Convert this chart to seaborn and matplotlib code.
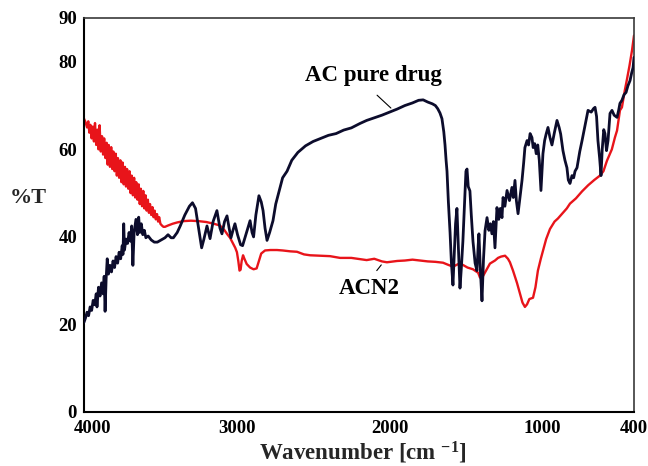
import matplotlib
matplotlib.use("Agg")
import matplotlib.pyplot as plt
import matplotlib.transforms as mtransforms
import pandas as pd
import seaborn as sns

# ---------------- data ----------------
ac_wavenumber = [
    4000, 3990, 3980, 3970, 3960, 3950, 3940, 3930, 3920, 3915, 3905, 3895, 3885, 3875, 3868, 3862,
    3855, 3848, 3840, 3830, 3820, 3810, 3800, 3790, 3780, 3770, 3760, 3750, 3745, 3740, 3735, 3725,
    3715, 3705, 3695, 3688, 3680, 3672, 3660, 3650, 3642, 3635, 3625, 3615, 3605, 3595, 3580, 3560,
    3540, 3520, 3500, 3470, 3450, 3430, 3415, 3390, 3370, 3340, 3310, 3290, 3270, 3250, 3230, 3215,
    3195, 3175, 3155, 3130, 3110, 3097, 3080, 3064, 3050, 3038, 3025, 3012, 2995, 2975, 2962, 2945,
    2933, 2913, 2900, 2890, 2875, 2855, 2840, 2828, 2815, 2802, 2785, 2763, 2745, 2730, 2700, 2671,
    2640, 2600, 2550, 2500, 2450, 2400, 2350, 2300, 2250, 2194, 2150, 2100, 2050, 2000, 1950, 1900,
    1850, 1810, 1780, 1750, 1720, 1700, 1685, 1670, 1657, 1645, 1637, 1630, 1624, 1615, 1604, 1595,
    1585, 1578, 1568, 1559, 1550, 1539, 1530, 1520, 1510, 1500, 1493, 1485, 1474, 1465, 1454, 1440,
    1428, 1420, 1415, 1405, 1395, 1385, 1375, 1362, 1350, 1340, 1330, 1320, 1310, 1297, 1285, 1275,
    1264, 1257, 1245, 1231, 1215, 1199, 1190, 1179, 1170, 1159, 1145, 1133, 1122, 1114, 1100, 1090,
    1080, 1068, 1060, 1050, 1040, 1030, 1020, 1009, 1002, 996, 985, 975, 963, 950, 937, 920,
    904, 890, 880, 865, 852, 839, 830, 819, 806, 795, 786, 773, 755, 740, 720, 701,
    680, 665, 655, 645, 636, 625, 616, 608, 598, 590, 580, 570, 557, 544, 530, 511,
    500, 492, 479, 465, 452, 440, 426, 415, 406, 400,
]
ac_transmittance = [
    20.5, 21.5, 22.8, 22.0, 24.0, 23.2, 25.5, 24.5, 27.0, 24.0, 28.5, 26.5, 29.5, 27.0, 31.0, 23.0,
    30.5, 35.0, 31.5, 33.5, 32.0, 34.5, 33.0, 35.5, 34.0, 36.5, 35.0, 38.0, 36.0, 43.0, 37.0, 39.5,
    38.5, 41.0, 39.0, 42.5, 33.5, 41.0, 44.0, 40.5, 44.5, 41.0, 43.0, 40.5, 41.5, 39.8, 40.2, 39.3,
    38.8, 38.8, 39.2, 39.8, 40.5, 39.8, 39.8, 41.0, 42.5, 45.0, 47.0, 47.8, 46.5, 42.0, 37.5, 39.5,
    42.5, 39.6, 43.5, 46.0, 42.0, 40.7, 43.5, 44.8, 42.0, 39.8, 41.5, 43.0, 40.5, 38.2, 38.0, 40.0,
    41.4, 43.7, 41.0, 40.0, 45.0, 49.4, 48.0, 46.0, 42.0, 39.2, 41.0, 43.7, 47.5, 49.5, 53.5, 55.0,
    57.5, 59.3, 60.8, 61.8, 62.5, 63.2, 63.6, 64.4, 64.9, 65.9, 66.6, 67.2, 67.8, 68.5, 69.2, 70.0,
    70.6, 71.2, 71.3, 70.8, 70.4, 70.0, 69.3, 68.3, 67.0, 64.0, 61.0, 57.5, 55.0, 48.0, 41.0, 34.0,
    29.0, 35.0, 43.0, 46.5, 38.0, 28.3, 33.0, 39.0, 47.0, 55.0, 55.5, 51.5, 50.5, 45.0, 39.0, 34.0,
    32.3, 38.0, 40.7, 32.0, 25.4, 35.0, 41.4, 44.4, 41.5, 43.0, 40.7, 43.5, 37.5, 46.7, 44.0, 46.5,
    44.4, 49.0, 47.0, 50.6, 48.3, 51.3, 49.0, 52.9, 48.3, 45.3, 49.5, 52.9, 57.0, 60.4, 62.0, 61.0,
    63.6, 62.7, 60.4, 61.3, 59.0, 61.0, 57.5, 50.6, 55.0, 59.0, 62.0, 63.5, 65.0, 62.7, 61.0, 64.0,
    66.6, 65.0, 63.5, 59.7, 57.5, 55.8, 53.0, 52.2, 54.0, 53.5, 55.0, 55.8, 59.5, 62.0, 65.5, 68.9,
    68.5, 69.3, 69.6, 67.5, 62.0, 58.0, 54.0, 60.0, 64.5, 63.6, 59.7, 62.0, 68.2, 68.9, 67.8, 67.3,
    69.0, 70.5, 71.2, 72.5, 73.0, 74.5, 75.7, 77.5, 78.7, 81.0,
]

acn2_wavenumber = [
    4000, 3990, 3980, 3972, 3965, 3958, 3950, 3942, 3935, 3928, 3920, 3912, 3905, 3898, 3890, 3882,
    3875, 3868, 3860, 3852, 3845, 3838, 3830, 3822, 3815, 3808, 3800, 3792, 3785, 3778, 3770, 3762,
    3755, 3748, 3740, 3732, 3725, 3718, 3710, 3702, 3695, 3688, 3680, 3672, 3665, 3658, 3650, 3642,
    3635, 3628, 3620, 3612, 3605, 3597, 3590, 3582, 3575, 3568, 3560, 3552, 3545, 3538, 3530, 3522,
    3515, 3508, 3500, 3490, 3480, 3470, 3450, 3420, 3390, 3350, 3300, 3250, 3200, 3150, 3110, 3080,
    3060, 3044, 3025, 3010, 2999, 2990, 2982, 2975, 2968, 2959, 2950, 2935, 2913, 2890, 2870, 2855,
    2840, 2815, 2780, 2737, 2700, 2650, 2606, 2560, 2520, 2450, 2390, 2324, 2250, 2150, 2100, 2050,
    2017, 1950, 1900, 1850, 1801, 1750, 1700, 1650, 1615, 1585, 1550, 1520, 1490, 1454, 1420, 1408,
    1389, 1370, 1343, 1310, 1290, 1270, 1244, 1225, 1212, 1192, 1166, 1146, 1130, 1114, 1100, 1085,
    1061, 1045, 1029, 1010, 996, 975, 950, 920, 898, 870, 840, 819, 780, 740, 700, 660,
    623, 600, 577, 545, 525, 511, 492, 479, 460, 446, 430, 413, 400,
]
acn2_transmittance = [
    67.0, 66.2, 65.0, 66.4, 63.8, 65.6, 62.5, 65.2, 61.8, 66.0, 61.0, 64.5, 60.0, 65.5, 59.5, 63.0,
    58.8, 62.5, 58.0, 61.5, 56.5, 61.0, 56.0, 60.5, 55.5, 59.5, 55.0, 59.0, 54.0, 58.0, 53.5, 57.5,
    52.5, 57.0, 52.0, 56.0, 51.5, 55.5, 51.0, 55.0, 50.0, 54.0, 49.5, 53.5, 49.0, 52.5, 48.5, 52.0,
    47.5, 51.0, 47.0, 50.5, 46.5, 49.5, 46.0, 48.5, 45.5, 47.5, 45.0, 46.8, 44.5, 46.0, 44.0, 45.2,
    43.5, 44.5, 43.0, 42.6, 42.3, 42.3, 42.6, 43.0, 43.3, 43.6, 43.7, 43.6, 43.4, 43.0, 42.6, 41.5,
    40.5, 39.8, 38.5, 37.5, 36.5, 34.5, 32.3, 32.5, 34.5, 35.8, 35.0, 33.8, 33.0, 32.6, 32.8, 34.5,
    36.2, 36.9, 37.0, 37.0, 36.9, 36.7, 36.6, 36.0, 35.8, 35.7, 35.6, 35.2, 35.2, 34.7, 35.0, 34.4,
    34.2, 34.5, 34.6, 34.8, 34.6, 34.4, 34.3, 34.1, 33.6, 33.2, 33.8, 33.6, 33.0, 32.6, 31.8, 30.7,
    31.0, 32.2, 33.9, 34.6, 35.2, 35.5, 35.7, 35.0, 34.2, 32.3, 29.5, 27.0, 25.0, 24.0, 24.6, 25.8,
    26.1, 28.5, 32.3, 35.0, 36.8, 39.5, 41.8, 43.5, 44.2, 45.3, 46.5, 47.6, 48.8, 50.4, 51.8, 53.0,
    54.0, 55.0, 57.4, 60.0, 62.7, 64.3, 68.9, 69.6, 73.5, 76.0, 79.0, 82.6, 86.0,
]

x_ticks = [4000, 3500, 3000, 2500, 2000, 1500, 1000, 500, 400]
x_tick_labels = ["4000", "", "3000", "", "2000", "", "1000", "", "400"]
y_ticks = [0, 10, 20, 30, 40, 50, 60, 70, 80, 90]
y_tick_labels = ["0", "", "20", "", "40", "", "60", "", "80", "90"]

# ---------------- style ----------------
sns.set_style("white")
plt.rcParams["font.family"] = ["Liberation Serif", "DejaVu Serif"]
plt.rcParams["font.weight"] = "bold"
plt.rcParams["mathtext.fontset"] = "custom"
plt.rcParams["mathtext.rm"] = "Liberation Serif:bold"
plt.rcParams["mathtext.it"] = "Liberation Serif:bold"
plt.rcParams["mathtext.bf"] = "Liberation Serif:bold"

W, H = 648, 466
fig = plt.figure(figsize=(W / 100, H / 100), dpi=100)
ax = fig.add_axes([84 / W, 1 - 412 / H, 550 / W, 394 / H])

df_ac = pd.DataFrame({"wavenumber": ac_wavenumber, "T": ac_transmittance})
df_acn2 = pd.DataFrame({"wavenumber": acn2_wavenumber, "T": acn2_transmittance})

sns.lineplot(data=df_acn2, x="wavenumber", y="T", ax=ax, color="#e8141a",
             linewidth=1.7, estimator=None, sort=False, zorder=2)
sns.lineplot(data=df_ac, x="wavenumber", y="T", ax=ax, color="#0c0c2c",
             linewidth=2.0, estimator=None, sort=False, zorder=3)

ax.set_xlim(4000, 400)
ax.set_ylim(0, 90)
ax.set_xticks(x_ticks)
ax.set_xticklabels(x_tick_labels)
ax.set_yticks(y_ticks)
ax.set_yticklabels(y_tick_labels)
ax.tick_params(axis="both", direction="in", length=3, width=1.0, colors="black",
               labelsize=13.5)
ax.tick_params(axis="x", pad=6)
ax.tick_params(axis="y", pad=5)
for lab in ax.get_xticklabels() + ax.get_yticklabels():
    lab.set_fontweight("bold")
# first x label sits slightly right of its tick in the reference
lab0 = ax.get_xticklabels()[0]
lab0.set_transform(lab0.get_transform() + mtransforms.ScaledTranslation(9 / 100, 0, fig.dpi_scale_trans))

ax.set_xlabel("")
ax.set_ylabel("")

for side in ["left", "bottom"]:
    ax.spines[side].set_color("black")
    ax.spines[side].set_linewidth(1.5)
for side in ["top", "right"]:
    ax.spines[side].set_color("#3a3a3a")
    ax.spines[side].set_linewidth(1.2)

# annotations
ax.text(2108, 76.9, "AC pure drug", fontsize=16.5, fontweight="bold", ha="center",
        va="center", color="black")
ax.annotate("", xy=(1978, 69.0), xytext=(2095, 72.8),
            arrowprops=dict(arrowstyle="-", color="black", lw=0.8))
ax.text(2135, 28.1, "ACN2", fontsize=16.5, fontweight="bold", ha="center",
        va="center", color="black")
ax.annotate("", xy=(2043, 34.1), xytext=(2095, 31.8),
            arrowprops=dict(arrowstyle="-", color="black", lw=0.8))

fig.text(28 / W, 1 - 198 / H, "%T", fontsize=16, fontweight="bold", ha="center", va="center")
fig.text(363 / W, 1 - 460 / H, "Wavenumber [cm $^{-1}$]", fontsize=16.5, fontweight="bold",
         ha="center", va="baseline")

fig.savefig("out.png", dpi=100)
